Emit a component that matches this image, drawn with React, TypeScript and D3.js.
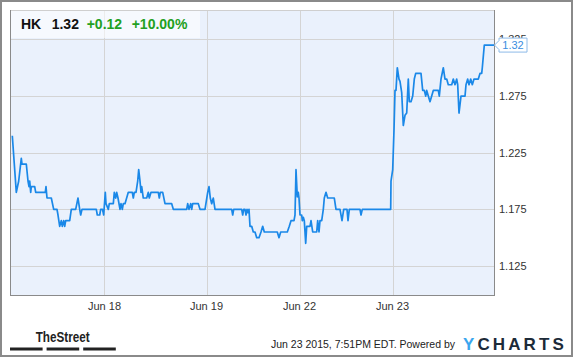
import React from "react";
import * as d3 from "d3";

// Bar index (intraday sample position) and price, one array per session
const jun17: [number, number][] = [
  [2.3, 1.24], [6.3, 1.19], [8.7, 1.2], [11.3, 1.22], [12, 1.215], [16.3, 1.215], [18, 1.2], [19, 1.195],
  [19.7, 1.2], [20.7, 1.19], [21.3, 1.195], [24.7, 1.195], [25.7, 1.19], [35.3, 1.19], [36, 1.195], [37, 1.185],
  [41.3, 1.185], [43.7, 1.175], [47, 1.175], [48, 1.17], [49.7, 1.16], [51.3, 1.165], [52.3, 1.16], [53.7, 1.165],
  [54.7, 1.16], [55.7, 1.165], [59.7, 1.165], [61.3, 1.175], [65.7, 1.175], [68, 1.185], [69.7, 1.175], [70.7, 1.17],
  [72, 1.175], [86.3, 1.175], [87.3, 1.17], [89.7, 1.17], [90.7, 1.175], [92.5, 1.175], [93.7, 1.17],
];
const jun18: [number, number][] = [
  [95.3, 1.19], [96, 1.18], [98.3, 1.175], [99.3, 1.18], [103.3, 1.18], [104.3, 1.19], [105.7, 1.185], [106.7, 1.19],
  [108, 1.185], [110, 1.175], [111, 1.18], [112.3, 1.175], [113.3, 1.18], [115, 1.18], [118.3, 1.19], [122.3, 1.19],
  [123.3, 1.185], [124.3, 1.19], [126, 1.19], [127.7, 1.2], [128.7, 1.21], [130, 1.2], [131, 1.19], [131.7, 1.195],
  [133.3, 1.185], [136.7, 1.185], [138.3, 1.19], [139.3, 1.185], [141, 1.19], [148.3, 1.19], [149.3, 1.185], [150.3, 1.19],
  [152.7, 1.19], [155, 1.18], [161.7, 1.18], [163.3, 1.175], [176.7, 1.175], [177.7, 1.18], [179, 1.175], [180.7, 1.18],
  [181.7, 1.175], [182.7, 1.18], [188.3, 1.18], [190, 1.175], [195, 1.175],
];
const jun19: [number, number][] = [
  [197.7, 1.19], [199, 1.195], [200.3, 1.185], [201.7, 1.18], [203.3, 1.185], [205, 1.175], [221.7, 1.175], [222.7, 1.17],
  [223.7, 1.175], [231.7, 1.175], [232.7, 1.17], [233.7, 1.175], [235, 1.175], [236, 1.17], [237, 1.175], [238, 1.172],
  [239, 1.175], [240, 1.16], [241.7, 1.16], [243.3, 1.155], [245, 1.155], [246.7, 1.15], [249, 1.15], [251, 1.155],
  [252.7, 1.16], [254.3, 1.155], [267.3, 1.155], [269, 1.15], [270.7, 1.155], [277.3, 1.155], [279.3, 1.16], [281, 1.165],
  [284, 1.165], [285, 1.17], [286, 1.21], [287.3, 1.186], [288.3, 1.19], [289, 1.185],
];
const jun22: [number, number][] = [
  [290, 1.17], [291.7, 1.17], [292.3, 1.165], [293.3, 1.168], [294.3, 1.165], [295.7, 1.145], [296.7, 1.16], [300, 1.16],
  [301, 1.165], [302.7, 1.155], [306.7, 1.155], [307.7, 1.165], [309, 1.155], [310, 1.165], [311.7, 1.165], [313.3, 1.175],
  [314.3, 1.185], [316, 1.19], [317.7, 1.185], [324.3, 1.185], [326, 1.175], [330, 1.175], [332, 1.165], [333.7, 1.175],
  [337, 1.175], [338, 1.165], [339.3, 1.175], [350, 1.175], [351, 1.17], [352.3, 1.175], [380.7, 1.175], [381, 1.2],
];
const jun23: [number, number][] = [
  [382.7, 1.21], [384, 1.245], [385, 1.28], [386, 1.28], [387.3, 1.3], [389, 1.29], [390, 1.288], [391.7, 1.278],
  [393.3, 1.249], [395, 1.258], [396.7, 1.26], [398.3, 1.29], [399.3, 1.27], [401, 1.27], [402.7, 1.275], [404.3, 1.29],
  [405.7, 1.295], [411, 1.295], [412.7, 1.28], [414.3, 1.28], [415.7, 1.275], [416.7, 1.28], [418.3, 1.275], [420, 1.27],
  [421.7, 1.275], [423.3, 1.28], [428.3, 1.28], [429.3, 1.275], [431, 1.29], [433.3, 1.3], [435, 1.29], [436.7, 1.29],
  [438.3, 1.285], [441.7, 1.285], [443.3, 1.29], [445, 1.285], [446.7, 1.29], [447.7, 1.285], [449, 1.26], [451, 1.275],
  [455, 1.275], [456, 1.285], [457.7, 1.29], [459, 1.285], [460.7, 1.29], [462.3, 1.285], [464, 1.29], [468.3, 1.29],
  [470, 1.295], [471.7, 1.295], [472.3, 1.3], [474.3, 1.32], [484, 1.32],
];

const xTickBars = [94.5, 196.5, 289.5, 382.5];
const xTickLabels = ["Jun 18", "Jun 19", "Jun 22", "Jun 23"];
const yTicks = [1.125, 1.175, 1.225, 1.275, 1.325];

const ticker = "HK";
const lastPrice = "1.32";
const change = "+0.12";
const changePct = "+10.00%";
const stamp = "Jun 23 2015, 7:51PM EDT. Powered by";

const FONT = "'Liberation Sans', Arial, Helvetica, sans-serif";

export default function App() {
  const L = 10, R = 494, T = 10, B = 295;
  const x = d3.scaleLinear().domain([0, 484]).range([L, R]);
  const y = d3.scaleLinear().domain([1.1, 1.35]).range([294.3, 11.1]);
  const data = [...jun17, ...jun18, ...jun19, ...jun22, ...jun23];
  const line = d3.line<[number, number]>().x((d) => x(d[0])).y((d) => y(d[1]));
  const last = data[data.length - 1];
  const ly = y(last[1]);
  const crisp = (v: number) => Math.round(v) + 0.5;

  return (
    <svg width={575} height={358} style={{ position: "absolute", left: 0, top: 0, display: "block" }} fontFamily={FONT}>
      <defs>
        <clipPath id="plotclip">
          <rect x={L} y={T} width={R - L} height={B - T} />
        </clipPath>
      </defs>
      <rect x={0} y={0} width={575} height={358} fill="#fff" />
      <rect x={1} y={1} width={571} height={355} fill="none" stroke="#8a8a8a" strokeWidth={2} />

      <rect x={L} y={T} width={R - L} height={B - T} fill="#eaf1fc" />
      {yTicks.map((t) => (
        <line key={"gy" + t} x1={L} x2={R} y1={crisp(y(t))} y2={crisp(y(t))} stroke="#d4d4d4" strokeWidth={1} />
      ))}
      {xTickBars.map((t) => (
        <line key={"gx" + t} x1={crisp(x(t))} x2={crisp(x(t))} y1={T} y2={B} stroke="#d4d4d4" strokeWidth={1} />
      ))}
      <line x1={L} x2={R} y1={T + 0.5} y2={T + 0.5} stroke="#cfcfcf" />
      <line x1={L + 0.5} x2={L + 0.5} y1={T} y2={B} stroke="#8a8a8a" />
      <line x1={R + 0.5} x2={R + 0.5} y1={T} y2={B} stroke="#8a8a8a" />
      <line x1={L} x2={R + 1} y1={B + 0.5} y2={B + 0.5} stroke="#8a8a8a" />

      <g clipPath="url(#plotclip)">
        <path d={line(data) || ""} fill="none" stroke="#1a88e8" strokeWidth={1.7} strokeLinejoin="round" />
      </g>

      {/* legend box */}
      <rect x={L + 1} y={T + 1} width={189} height={27} fill="#ffffff" fillOpacity={0.55} />
      <text y={28.5} fontSize={14} fontWeight="bold">
        <tspan x={21} fill="#111">{ticker}</tspan>
        <tspan x={51.7} fill="#111">{lastPrice}</tspan>
        <tspan x={86.7} fill="#22a022">{change}</tspan>
        <tspan x={131.7} fill="#22a022">{changePct}</tspan>
      </text>

      {/* y tick labels */}
      {yTicks.map((t) => (
        <text key={"ly" + t} x={499} y={y(t) + 4} fontSize={11} fill="#333">
          {t.toFixed(3)}
        </text>
      ))}
      {/* x tick labels */}
      {xTickBars.map((t, i) => (
        <text key={"lx" + t} x={x(t)} y={310} fontSize={11} fill="#333" textAnchor="middle">
          {xTickLabels[i]}
        </text>
      ))}

      {/* last value callout */}
      <path
        d={`M${R + 0.5},${ly} L${R + 5},${ly - 4.5} L${R + 5},${ly - 7} L${R + 33},${ly - 7} L${R + 33},${ly + 7} L${R + 5},${ly + 7} L${R + 5},${ly + 4.5} Z`}
        fill="#fff"
        stroke="#8dbbe8"
        strokeWidth={1}
      />
      <text x={R + 19} y={ly + 4} fontSize={11} fill="#3a8de0" textAnchor="middle">
        {lastPrice}
      </text>

      {/* footer */}
      <text x={35.7} y={341.7} fontSize={15} fontWeight="bold" fill="#222" textLength={54} lengthAdjust="spacingAndGlyphs">
        TheStreet
      </text>
      {[0, 1, 2].map((i) => (
        <rect key={"bar" + i} x={10 + i * 36.6} y={347.5} width={32.6} height={3} fill="#222" />
      ))}
      <text x={271} y={348} fontSize={11} fill="#222" textLength={184} lengthAdjust="spacingAndGlyphs">
        {stamp}
      </text>
      <text x={463} y={350} fontSize={17} fontWeight="bold" letterSpacing={3.1}>
        <tspan fill="#3aa6ee">Y</tspan>
        <tspan fill="#1c2a38">CHARTS</tspan>
      </text>
    </svg>
  );
}
